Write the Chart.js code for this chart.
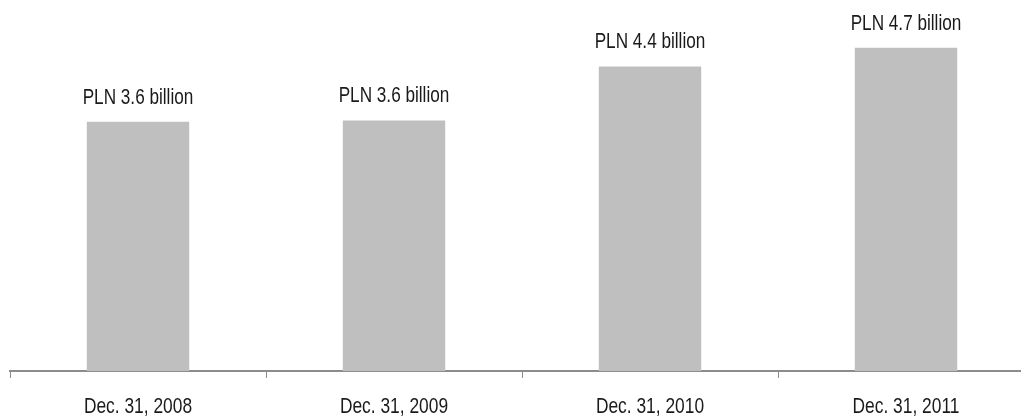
<!DOCTYPE html>
<html>
<head>
<meta charset="utf-8">
<script src="https://cdn.jsdelivr.net/npm/chart.js@4.4.0/dist/chart.umd.min.js"></script>
<style>
  html, body { margin: 0; padding: 0; background: #fff; overflow: hidden; }
  #wrap { width: 1040px; height: 416px; }
</style>
</head>
<body>
<div id="wrap"><canvas id="assets" width="1040" height="416"></canvas></div>
<script>
// values in PLN billion
const categories = ['Dec. 31, 2008', 'Dec. 31, 2009', 'Dec. 31, 2010', 'Dec. 31, 2011']
const values = [3.6, 3.62, 4.4, 4.67]
const valueLabels = ['PLN 3.6 billion', 'PLN 3.6 billion', 'PLN 4.4 billion', 'PLN 4.7 billion']

const FONT = '"Liberation Sans", Arial, sans-serif'

// condensed text, the original uses a narrow face
function narrowText(ctx, text, x, y, squeeze){
    ctx.save()
    ctx.translate(x, y)
    ctx.scale(squeeze, 1)
    ctx.fillText(text, 0, 0)
    ctx.restore()
}

// text above each bar and under the axis
const barLabels = {
    id: 'barLabels',
    afterDraw(chart) {
        const ctx = chart.ctx
        const meta = chart.getDatasetMeta(0)
        const xs = chart.scales.x
        ctx.save()
        ctx.font = '22px ' + FONT
        ctx.fillStyle = '#1a1a1a'
        ctx.textAlign = 'center'
        ctx.textBaseline = 'alphabetic'
        meta.data.forEach(function(bar, i){
            narrowText(ctx, valueLabels[i], bar.x, bar.y - 18, 0.78)
        })
        categories.forEach(function(c, i){
            narrowText(ctx, c, xs.getPixelForTick(i), 413, 0.79)
        })
        ctx.restore()
    }
}

var ctx = document.getElementById('assets');
var assets = new Chart(ctx, {
    type: 'bar',
    data: {
        labels: categories,
        datasets: [{
            data: values,
            backgroundColor: '#bfbfbf',
            borderWidth: 0,
            categoryPercentage: 1,
            barPercentage: 0.4
        }]
    },
    options: {
        responsive: false,
        animation: false,
        layout: { padding: { left: 10, right: 6, top: 0, bottom: 0 } },
        plugins: {
            legend: { display: false },
            tooltip: { enabled: false }
        },
        scales: {
            x: {
                offset: true,
                grid: {
                    offset: true,
                    drawOnChartArea: false,
                    drawTicks: true,
                    tickLength: 7,
                    color: '#8c8c8c',
                    lineWidth: 1
                },
                border: { display: true, color: '#8c8c8c', width: 2 },
                ticks: {
                    color: 'rgba(0,0,0,0)',
                    font: { family: FONT, size: 20 },
                    padding: 14,
                    maxRotation: 0,
                    autoSkip: false
                },
                afterFit: function(scale){ scale.height = 45 }
            },
            y: {
                display: false,
                min: 0,
                max: 5.36
            }
        }
    },
    plugins: [barLabels]
});
</script>
</body>
</html>
